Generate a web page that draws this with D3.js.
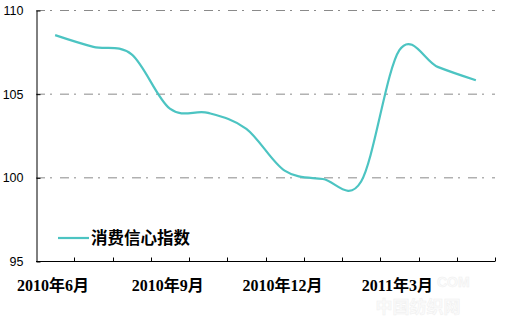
<!DOCTYPE html>
<html>
<head>
<meta charset="utf-8">
<script src="https://cdn.jsdelivr.net/npm/d3@7"></script>
<style>
  body { margin: 0; background: #fff; }
  svg { display: block; }
</style>
</head>
<body>
<div class="chart"></div>
<script>
// months shown on the x axis (one band per month)
var months = ["2010年6月", "2010年7月", "2010年8月", "2010年9月", "2010年10月", "2010年11月",
              "2010年12月", "2011年1月", "2011年2月", "2011年3月", "2011年4月", "2011年5月"];
var confidence = [108.5, 107.8, 107.35, 104.1, 103.85, 102.9, 100.4, 99.9, 99.75, 107.6, 106.6, 105.8];
var labelledMonths = ["2010年6月", "2010年9月", "2010年12月", "2011年3月"];
var yTicks = [95, 100, 105, 110];
var seriesName = "消费信心指数";

var width = 506,
	height = 320,
	plotLeft = 36, plotRight = 495, plotTop = 10, plotBottom = 261;

var svg = d3.select(".chart")
	.append("svg")
	.attr("width", width)
	.attr("height", height);

var x = d3.scaleBand()
	.domain(months)
	.range([plotLeft, plotRight]);

var y = d3.scaleLinear()
	.domain([95, 110])
	.range([plotBottom, plotTop]);

// faint watermark (sits behind the axis labels)
svg.append("text")
	.attr("x", 437).attr("y", 287)
	.style("font-family", "'Liberation Sans', sans-serif")
	.style("font-weight", "bold")
	.style("font-size", "14px")
	.attr("fill", "#fbfbfb")
	.attr("stroke", "#efefef")
	.attr("stroke-width", 0.5)
	.text("COM");
svg.append("text")
	.attr("x", 418).attr("y", 313)
	.attr("text-anchor", "middle")
	.style("font-family", "'Noto Sans CJK SC', sans-serif")
	.style("font-weight", "bold")
	.style("font-size", "17px")
	.attr("fill", "#fbfbfb")
	.attr("stroke", "#efefef")
	.attr("stroke-width", 0.5)
	.text("中国纺织网");

// dash-dot gridlines
svg.append("g")
	.selectAll("line")
	.data(yTicks.filter(function(d){ return d > 95; }))
	.enter()
	.append("line")
	.attr("x1", plotLeft)
	.attr("x2", plotRight)
	.attr("y1", function(d){ return y(d) + 0.5; })
	.attr("y2", function(d){ return y(d) + 0.5; })
	.style("stroke", "#8a8a8a")
	.style("stroke-width", "1px")
	.style("stroke-dasharray", "9,5,2,8");

// y axis
var yAxis = svg.append("g")
	.attr("transform", "translate(" + (plotLeft + 0.5) + ",0.5)")
	.call(d3.axisLeft(y).tickValues(yTicks).tickSizeInner(-4).tickSizeOuter(0).tickPadding(13));
yAxis.select(".domain").attr("stroke", "#000");
yAxis.selectAll("line").attr("stroke", "#000");
yAxis.selectAll("text")
	.style("font-family", "'Liberation Sans', Arial, sans-serif")
	.style("font-size", "12.5px")
	.attr("fill", "#000");

// x axis: ticks on band boundaries, pointing inward
var xAxis = svg.append("g")
	.attr("transform", "translate(0," + (plotBottom + 0.5) + ")");
xAxis.append("line")
	.attr("x1", plotLeft)
	.attr("x2", plotRight)
	.style("stroke", "#000");
xAxis.selectAll("line.tick")
	.data(months)
	.enter()
	.append("line")
	.attr("class", "tick")
	.attr("x1", function(d){ return Math.round(x(d) + x.bandwidth()) + 0.5; })
	.attr("x2", function(d){ return Math.round(x(d) + x.bandwidth()) + 0.5; })
	.attr("y1", 0)
	.attr("y2", -4)
	.style("stroke", "#000");
xAxis.selectAll("text")
	.data(labelledMonths)
	.enter()
	.append("text")
	.attr("x", function(d){ return x(d) + x.bandwidth() / 2 - 2; })
	.attr("y", 29)
	.attr("text-anchor", "middle")
	.style("font-family", "'Liberation Serif', 'Noto Sans CJK SC', serif")
	.style("font-weight", "bold")
	.style("font-size", "16px")
	.text(function(d){ return d; });

// smoothed series line
var line = d3.line()
	.x(function(d, i){ return x(months[i]) + x.bandwidth() / 2; })
	.y(function(d){ return y(d); })
	.curve(d3.curveCardinal.tension(0));

svg.append("path")
	.datum(confidence)
	.attr("d", line)
	.attr("fill", "none")
	.attr("stroke", "#4cc4c2")
	.attr("stroke-width", 2.2);

// legend
var legend = svg.append("g").attr("transform", "translate(58,238)");
legend.append("line")
	.attr("x1", 0).attr("x2", 31)
	.attr("stroke", "#4cc4c2")
	.attr("stroke-width", 2.2);
legend.append("text")
	.attr("x", 33)
	.attr("y", 6)
	.style("font-family", "'Noto Sans CJK SC', sans-serif")
	.style("font-weight", "bold")
	.style("font-size", "16.5px")
	.text(seriesName);
</script>
</body>
</html>
